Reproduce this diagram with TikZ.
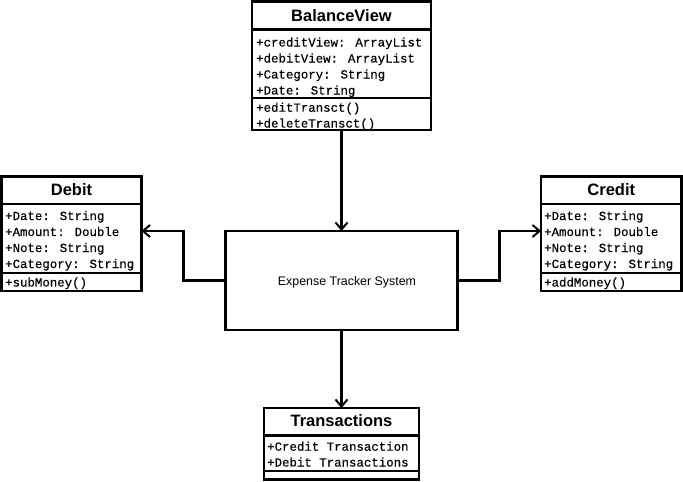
\documentclass[tikz,border=0pt]{standalone}
\usepackage{fontspec}
\setmainfont{Liberation Sans}
\newfontfamily\champfont{Liberation Mono}[FakeBold=0.4]
\usetikzlibrary{arrows.meta}

\begin{document}
\begin{tikzpicture}[x=1pt,y=-1pt]
        \useasboundingbox (0,0) rectangle (683,482);
        \tikzset{classe/.style={draw,line width=2.3pt,inner sep=0pt,outer sep=0pt}}
        \tikzset{titre/.style={font=\fontsize{16.5}{18}\selectfont\bfseries,anchor=base,inner sep=0pt}}
        \tikzset{champ/.style={font=\fontsize{12.4}{16}\selectfont\champfont,anchor=base west,inner sep=0pt}}
        \tikzset{trait/.style={line width=2.3pt}}
        \tikzset{fleche/.style={-{Straight Barb[length=7pt,width=12pt,line width=2pt]},line width=2.3pt}}
        % BalanceView
        \node[classe,minimum width=179pt,minimum height=128.5pt] (BV) at (341.5,65.75) {};
        \node[titre] (BVt) at (341.5,21.7) {BalanceView};
        \draw[trait] (BV.west |- 0,29.5) -- (BV.east |- 0,29.5);
        \draw[trait] (BV.west |- 0,98) -- (BV.east |- 0,98);
        \node[champ] (BV1) at (256,46.5) {+creditView: ArrayList};
        \node[champ] (BV2) at (256,62.5) {+debitView: ArrayList};
        \node[champ] (BV3) at (256,78.5) {+Category: String};
        \node[champ] (BV4) at (256,94.5) {+Date: String};
        \node[champ] (BV5) at (256,111.7) {+editTransct()};
        \node[champ] (BV6) at (256,127.5) {+deleteTransct()};
        % Debit
        \node[classe,minimum width=140pt,minimum height=114.5pt] (D) at (71.5,233.75) {};
        \node[titre] (Dt) at (71.5,195.7) {Debit};
        \draw[trait] (D.west |- 0,204) -- (D.east |- 0,204);
        \draw[trait] (D.west |- 0,273) -- (D.east |- 0,273);
        \node[champ] (D1) at (5,220) {+Date: String};
        \node[champ] (D2) at (5,236) {+Amount: Double};
        \node[champ] (D3) at (5,252) {+Note: String};
        \node[champ] (D4) at (5,268) {+Category: String};
        \node[champ] (D5) at (5,286.5) {+subMoney()};
        % Credit
        \node[classe,minimum width=140.5pt,minimum height=114.5pt] (C) at (611.25,233.75) {};
        \node[titre] (Ct) at (611.25,195.7) {Credit};
        \draw[trait] (C.west |- 0,204) -- (C.east |- 0,204);
        \draw[trait] (C.west |- 0,273) -- (C.east |- 0,273);
        \node[champ] (C1) at (544,220) {+Date: String};
        \node[champ] (C2) at (544,236) {+Amount: Double};
        \node[champ] (C3) at (544,252) {+Note: String};
        \node[champ] (C4) at (544,268) {+Category: String};
        \node[champ] (C5) at (544,286.5) {+addMoney()};
        % Transactions
        \node[classe,minimum width=155pt,minimum height=71.5pt] (T) at (341.5,443.75) {};
        \node[titre] (Tt) at (341.5,426.7) {Transactions};
        \draw[trait] (T.west |- 0,435.5) -- (T.east |- 0,435.5);
        \draw[trait] (T.west |- 0,471) -- (T.east |- 0,471);
        \node[champ] (T1) at (267,450.7) {+Credit Transaction};
        \node[champ] (T2) at (267,466.5) {+Debit Transactions};
        % systeme
        \node[classe,minimum width=232pt,minimum height=99pt] (ETS) at (341.5,280.5) {};
        \node[font=\fontsize{12.4}{14}\selectfont,anchor=base,inner sep=0pt] (ETSt) at (347,285.7) {Expense Tracker System};
        % liens
        \draw[fleche] (BV.south) -- (BV.south |- ETS.north);
        \draw[fleche] (ETS.west) -- ++(-42,0) |- (D.east |- ETS.north);
        \draw[fleche] (ETS.east) -- ++(42,0) |- (C.west |- ETS.north);
        \draw[fleche] (ETS.south) -- (T.north);
\end{tikzpicture}
\end{document}
